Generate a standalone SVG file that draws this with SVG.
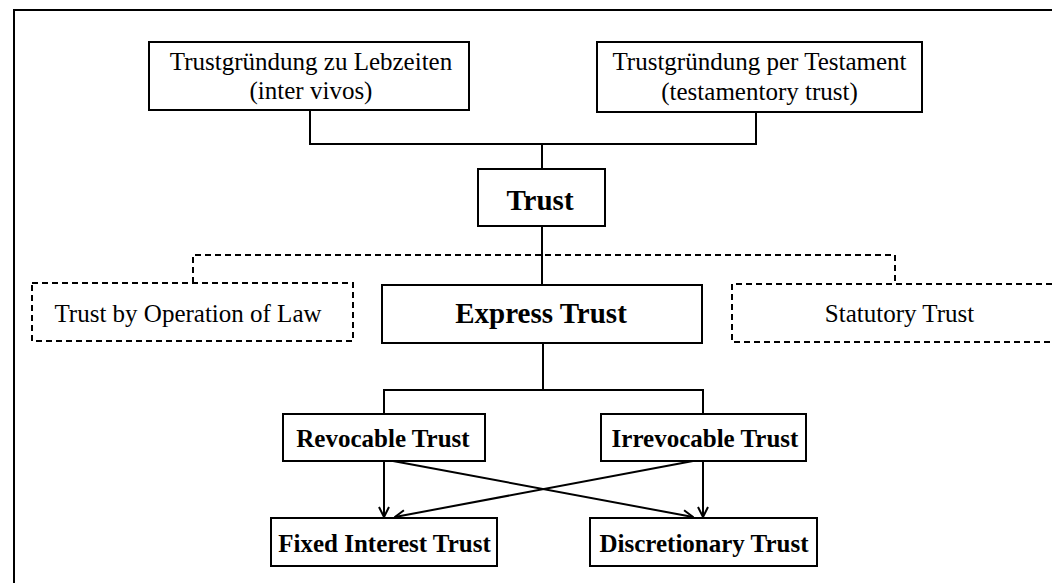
<svg xmlns="http://www.w3.org/2000/svg" width="1052" height="583" viewBox="0 0 1052 583">
  <defs>
    <style>
      .box { fill: #ffffff; stroke: #000000; stroke-width: 2; }
      .dbox { fill: none; stroke: #000000; stroke-width: 2; stroke-dasharray: 6 4; }
      .line { fill: none; stroke: #000000; stroke-width: 2; }
      .dline { fill: none; stroke: #000000; stroke-width: 2; stroke-dasharray: 6 4; }
      .arrow { fill: none; stroke: #000000; stroke-width: 2; marker-end: url(#vhead); }
      text { font-family: "Liberation Serif", "Times New Roman", serif; fill: #000000; text-anchor: middle; }
      .reg { font-size: 25px; }
      .bold { font-size: 25px; font-weight: bold; }
      .big { font-size: 29px; font-weight: bold; }
    </style>
    <marker id="vhead" viewBox="0 0 12 12" refX="11" refY="6" markerWidth="12" markerHeight="12" markerUnits="userSpaceOnUse" orient="auto">
      <path d="M1,1 L11,6 L1,11" fill="none" stroke="#000000" stroke-width="2"/>
    </marker>
  </defs>
  <rect x="0" y="0" width="1052" height="583" fill="#ffffff"/>

  <g id="frame">
    <path class="line" d="M14,583 V10 H1052"/>
  </g>

  <g id="connectors">
    <path class="line" d="M310,110 V144 H756 V112"/>
    <path class="line" d="M542,144 V169"/>
    <path class="line" d="M542,226 V285"/>
    <path class="dline" d="M193,283 V255 H895 V284"/>
    <path class="line" d="M543,343 V390"/>
    <path class="line" d="M384,414 V390 H703 V414"/>
    <path class="arrow" d="M384,461 V517"/>
    <path class="arrow" d="M703,461 V517"/>
    <path class="arrow" d="M393,461 L693,517"/>
    <path class="arrow" d="M693,461 L395,517"/>
  </g>

  <g id="node-lebzeiten">
    <rect class="box" x="149" y="42" width="320" height="68"/>
    <text class="reg" x="311" y="70">Trustgründung zu Lebzeiten</text>
    <text class="reg" x="311" y="99">(inter vivos)</text>
  </g>

  <g id="node-testament">
    <rect class="box" x="597" y="42" width="325" height="70"/>
    <text class="reg" x="759.5" y="70">Trustgründung per Testament</text>
    <text class="reg" x="759.5" y="100">(testamentory trust)</text>
  </g>

  <g id="node-trust">
    <rect class="box" x="478" y="169" width="127" height="57"/>
    <text class="big" x="540" y="210">Trust</text>
  </g>

  <g id="node-operation-of-law">
    <rect class="dbox" x="32" y="283" width="321" height="58"/>
    <text class="reg" x="188" y="322">Trust by Operation of Law</text>
  </g>

  <g id="node-express">
    <rect class="box" x="382" y="285" width="320" height="58"/>
    <text class="big" x="541" y="323">Express Trust</text>
  </g>

  <g id="node-statutory">
    <path class="dbox" d="M1052,284 H732 V342 H1052"/>
    <text class="reg" x="899.5" y="322">Statutory Trust</text>
  </g>

  <g id="node-revocable">
    <rect class="box" x="283" y="414" width="202" height="47"/>
    <text class="bold" x="383" y="447">Revocable Trust</text>
  </g>

  <g id="node-irrevocable">
    <rect class="box" x="601" y="414" width="205" height="47"/>
    <text class="bold" x="705" y="447">Irrevocable Trust</text>
  </g>

  <g id="node-fixed">
    <rect class="box" x="271" y="518" width="226" height="48"/>
    <text class="bold" x="384.5" y="552">Fixed Interest Trust</text>
  </g>

  <g id="node-discretionary">
    <rect class="box" x="590" y="518" width="227" height="48"/>
    <text class="bold" x="704" y="552">Discretionary Trust</text>
  </g>
</svg>
